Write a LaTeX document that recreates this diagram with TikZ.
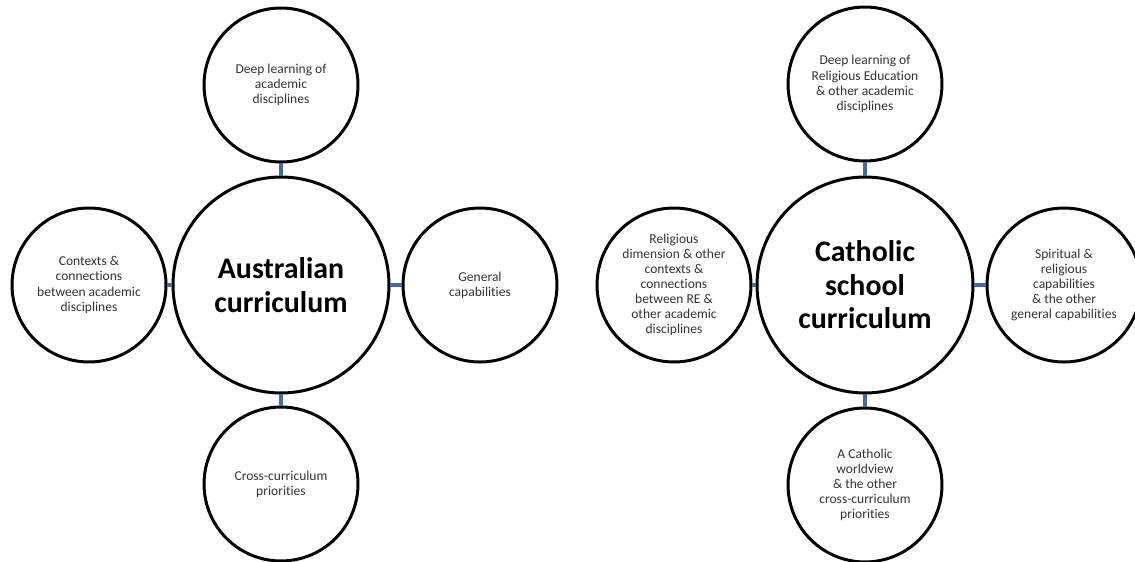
\documentclass[tikz,border=0pt]{standalone}
\usepackage{fontspec}
\setmainfont{Carlito}[Ligatures={NoCommon}]
\definecolor{linkblue}{RGB}{68,106,158}
\begin{document}
\begin{tikzpicture}[x=0.02cm,y=-0.02cm,
    hub/.style={draw,circle,line width=1.7pt,minimum size=4.32cm,inner sep=0pt,align=center,
        font=\fontsize{17}{19}\selectfont\bfseries},
    leaf/.style={draw,circle,line width=1.7pt,minimum size=3.08cm,inner sep=0pt,align=center,
        text=black!80,font=\fontsize{7.7}{8.6}\selectfont},
    link/.style={line width=1.9pt,linkblue}]
    \useasboundingbox (0,0) rectangle (1135,561);
    \node[hub] (au) at (281,285) {Australian\\curriculum};
    \node[leaf] (autop) at (281,85) {Deep learning of\\academic\\disciplines};
    \node[leaf] (auleft) at (89,285) {Contexts \&\\connections\\between academic\\disciplines};
    \node[leaf] (auright) at (480,285) {General\\capabilities};
    \node[leaf] (aubot) at (281,484) {Cross-curriculum\\priorities};
    \foreach \leaf in {autop,auleft,auright,aubot}
       \draw[link] (au) -- (\leaf);
    \node[hub] (cs) at (865,285) {Catholic\\school\\curriculum};
    \node[leaf] (cstop) at (865,84) {Deep learning of\\Religious Education\\\& other academic\\disciplines};
    \node[leaf] (csleft) at (674,285) {Religious\\dimension \& other\\contexts \&\\connections\\between RE \&\\other academic\\disciplines};
    \node[leaf] (csright) at (1064,285) {Spiritual \&\\religious\\capabilities\\\& the other\\general capabilities};
    \node[leaf] (csbot) at (865,485) {A Catholic\\worldview\\\& the other\\cross-curriculum\\priorities};
    \foreach \leaf in {cstop,csleft,csright,csbot}
       \draw[link] (cs) -- (\leaf);
  \end{tikzpicture}
\end{document}
